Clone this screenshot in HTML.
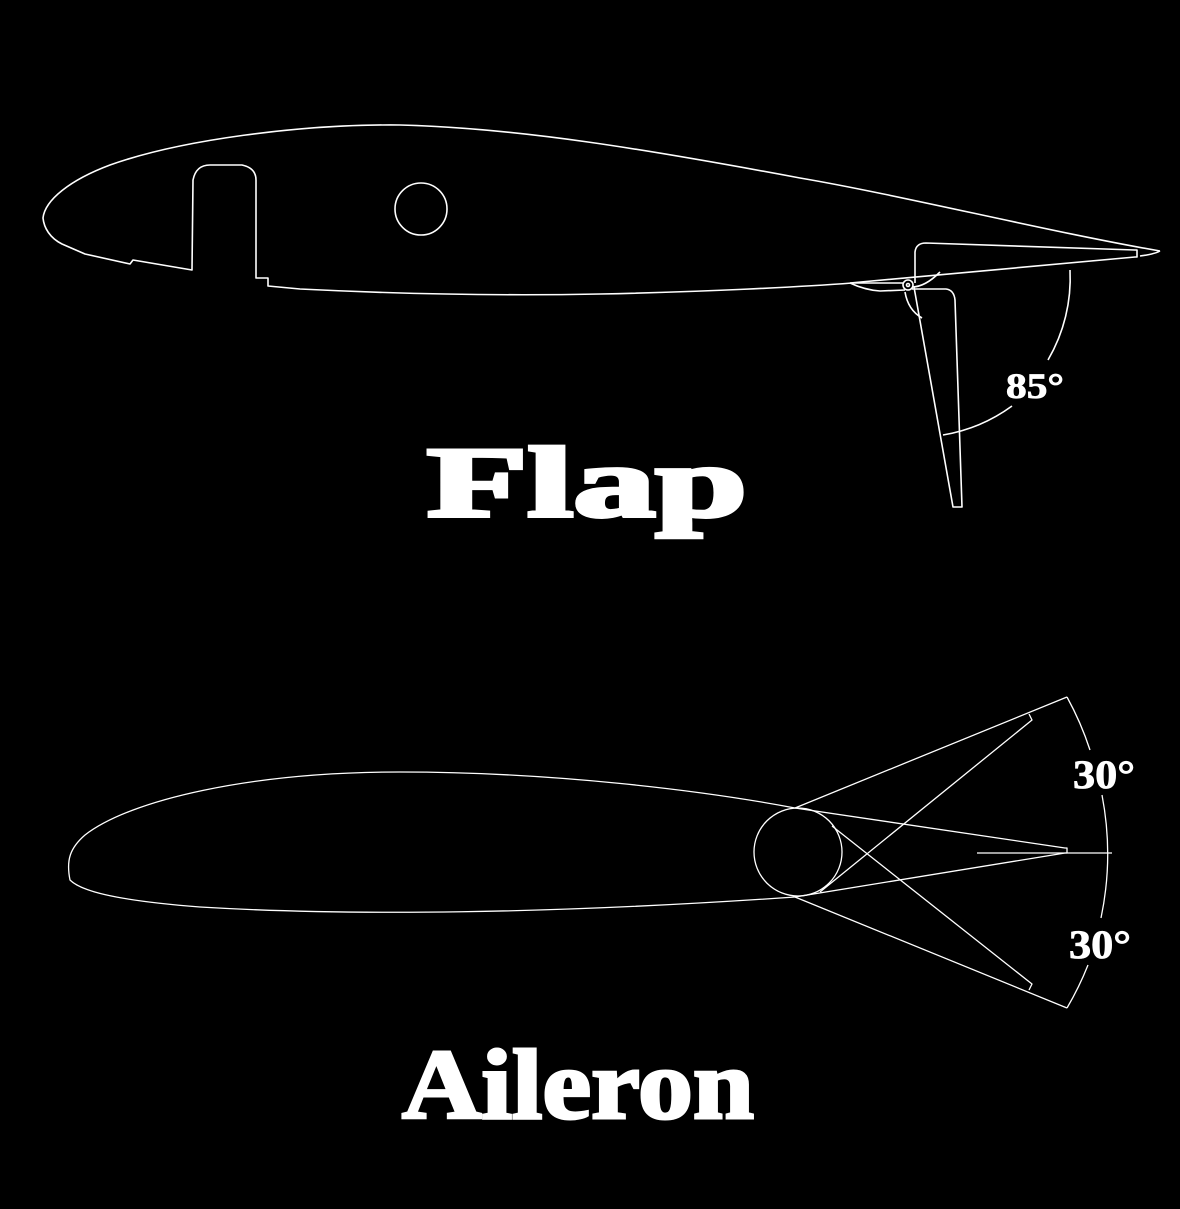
<!DOCTYPE html>
<html><head><style>html,body{margin:0;padding:0;background:#000;}svg{display:block}</style></head>
<body>
<svg width="1180" height="1209" viewBox="0 0 1180 1209" xmlns="http://www.w3.org/2000/svg">
<rect width="1180" height="1209" fill="#000"/>
<g fill="none" stroke="#fff" stroke-width="1.6" stroke-linejoin="round">
<path d="M1160,251 C1050,232 900,195 800,178 C650,150 520,128 400,125 C300,124 180,140 110,165 C70,180 45,200 43,218 C44,228 50,238 62,244 L85,254 L130,264 L133,260 L192,270 L193,180 Q196,165 210,165 L242,165 Q256,168 256,180 L256,278 L268,278 L268,286 L300,289 C400,294 500,296 600,294 C700,292 800,287 852,283 L903,283"/>
<path d="M1160,251 Q1155,254 1140,256"/>
<circle cx="421" cy="209" r="26"/>
<path d="M915,283 L915,252 Q916,243 926,243 L1135,250 L1137,250 L1137,257 L1135,257 L850,283"/>
<path d="M850,283 Q865,290 880,291 L905,290"/>
<path d="M912,287 Q925,287 940,272"/>
<circle cx="908" cy="285" r="5"/>
<circle cx="908" cy="285" r="1.5"/>
<path d="M914,287 L953,507 L962,507 L955,300 Q954,290 946,289 L912,289"/>
<path d="M905,292 Q908,310 922,318"/>
<path d="M1070,270 A162,162 0 0 1 1048,360"/>
<path d="M1012,406 A162,162 0 0 1 943,435"/>
</g>
<g fill="none" stroke="#fff" stroke-width="1.3" stroke-linejoin="round">
<path d="M795,808 C700,790 550,772 400,772 C250,772 130,800 85,835 C70,848 66,860 70,880 C80,890 110,900 200,907 C350,916 550,914 795,897"/>
<circle cx="798" cy="852" r="44"/>
<path d="M795,808 L1065,848 L1067,848 L1067,853 L1065,853 L795,897"/>
<path d="M977,853 L1112,853"/>
<path d="M795,808 L1067,697"/>
<path d="M1029,714 L1032,720 L820,892"/>
<path d="M795,897 L1067,1008"/>
<path d="M1029,990 L1032,984 L832,826"/>
<path d="M1067,697 A311,311 0 0 1 1090,750"/>
<path d="M1102,795 A311,311 0 0 1 1101,918"/>
<path d="M1088,965 A311,311 0 0 1 1067,1008"/>
</g>
<g fill="#fff" stroke="#fff" font-family="'Liberation Serif', serif" font-weight="bold">
<text x="1006" y="398" font-size="36" stroke-width="0.8" textLength="58" lengthAdjust="spacingAndGlyphs">85°</text>
<text x="1073" y="788" font-size="40" stroke-width="0.8" textLength="62" lengthAdjust="spacingAndGlyphs">30°</text>
<text x="1069" y="958" font-size="40" stroke-width="0.8" textLength="62" lengthAdjust="spacingAndGlyphs">30°</text>
<text x="427" y="516" font-size="100" stroke-width="4" textLength="320" lengthAdjust="spacingAndGlyphs">Flap</text>
<text x="402" y="1118" font-size="100" stroke-width="3" textLength="352" lengthAdjust="spacingAndGlyphs">Aileron</text>
</g>
</svg>
</body></html>
